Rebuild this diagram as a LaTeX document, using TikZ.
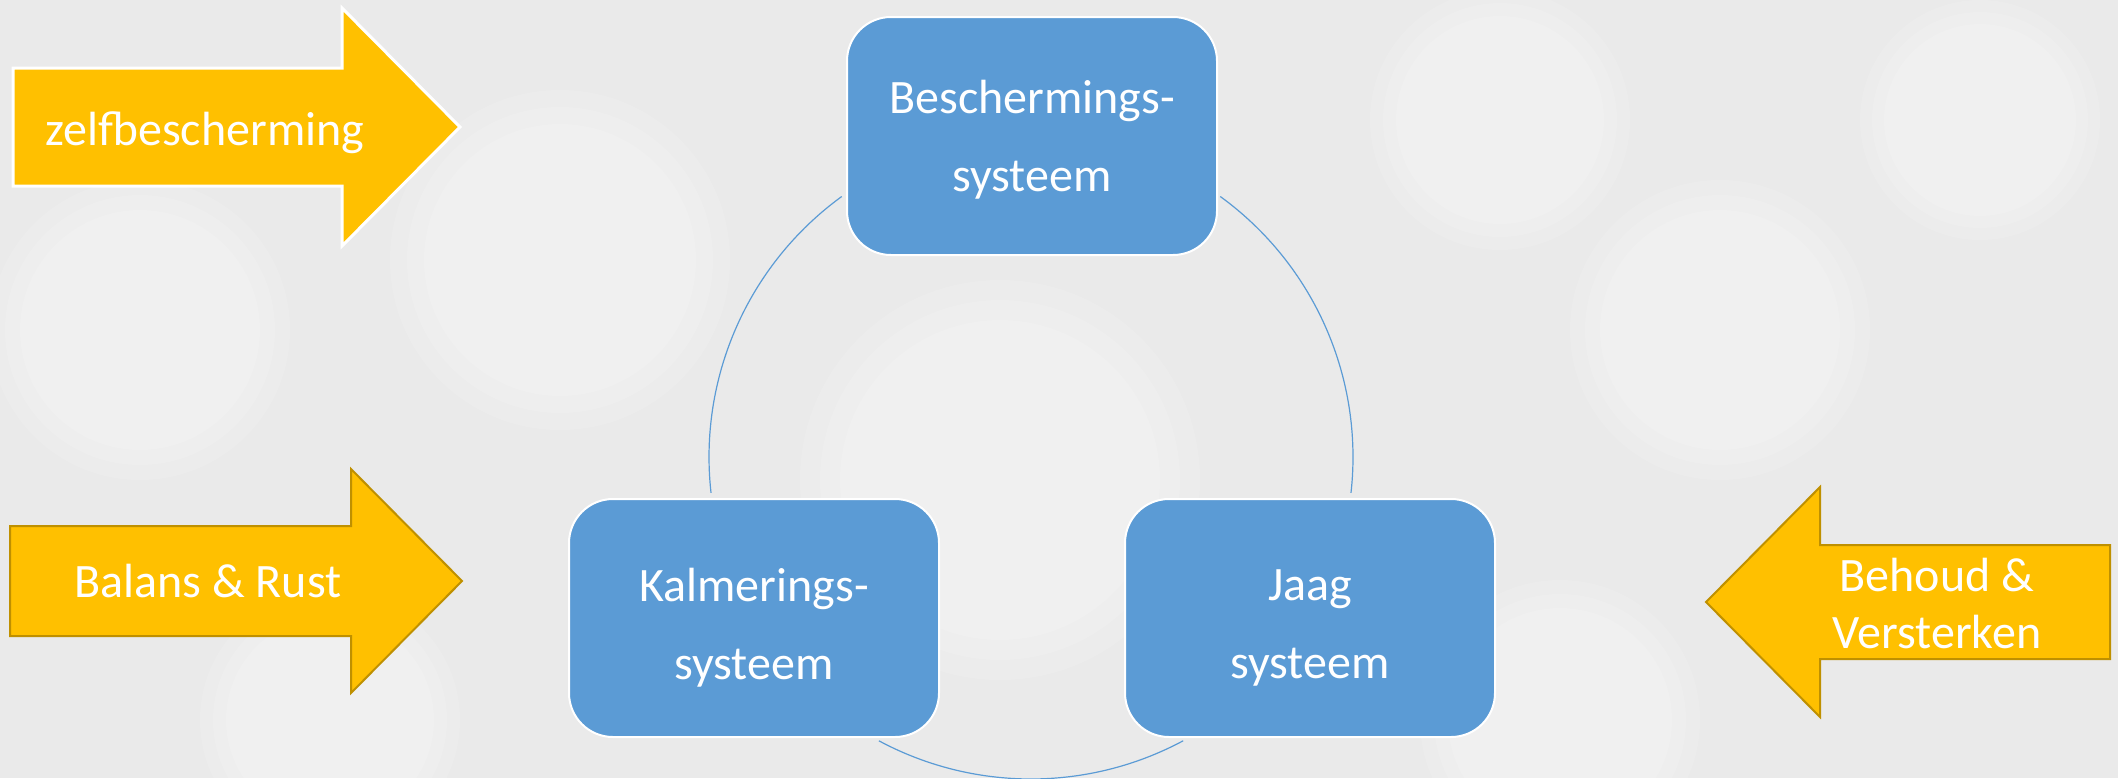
\documentclass[tikz,border=0pt]{standalone}
\usepackage{fontspec}
\setmainfont{Carlito}
\definecolor{boxblue}{HTML}{5B9BD5}
\definecolor{arrowgold}{HTML}{FFC000}
\definecolor{goldline}{HTML}{BF9000}
\definecolor{bgcol}{HTML}{EAEAEA}
\newcommand{\padtext}[2]{\parbox{180pt}{\centering\vspace*{#1}#2}}
\begin{document}
\begin{tikzpicture}[x=0.5pt,y=0.5pt,
  sysbox/.style={draw=white,line width=1pt,fill=boxblue,rounded corners=22pt,
    minimum width=185pt,minimum height=119pt,text=white,align=center,
    font=\fontsize{24}{39}\selectfont,inner sep=0pt},
  arrowlabel/.style={text=white,align=center,font=\fontsize{24}{28.5}\selectfont,inner sep=0pt},
  link/.style={draw=boxblue,line width=0.6pt},
  goldarrow/.style={fill=arrowgold,draw=goldline,line width=1pt,line join=miter},
  bokeh/.style={fill=white,opacity=0.12}]
\fill[bgcol] (0,0) rectangle (2118,-778);
\useasboundingbox (0,0) rectangle (2118,-778);
% soft background spots
\foreach \r in {1,0.9,0.8}{
  \fill[bokeh] (140,-330) circle[radius=150*\r];
  \fill[bokeh] (560,-260) circle[radius=170*\r];
  \fill[bokeh] (1000,-480) circle[radius=200*\r];
  \fill[bokeh] (1720,-330) circle[radius=150*\r];
  \fill[bokeh] (1500,-120) circle[radius=130*\r];
  \fill[bokeh] (1980,-120) circle[radius=120*\r];
  \fill[bokeh] (330,-720) circle[radius=130*\r];
  \fill[bokeh] (1560,-720) circle[radius=140*\r];
}
% connectors (circle)
\coordinate (ctr) at (1031,-457);
\draw[link] (ctr) ++(126:322) arc[start angle=126,end angle=186.4,radius=322];
\draw[link] (ctr) ++(241.8:322) arc[start angle=241.8,end angle=298.2,radius=322];
\draw[link] (ctr) ++(-6.4:322) arc[start angle=-6.4,end angle=54,radius=322];
% boxes
\node[sysbox] (top) at (1032,-136) {\padtext{4pt}{Beschermings-\\systeem}};
\node[sysbox] (left) at (754,-618) {\padtext{10pt}{Kalmerings-\\systeem}};
\node[sysbox] (right) at (1310,-618) {\padtext{10pt}{Jaag\\systeem}};
% arrows
\draw[goldarrow,draw=white,line width=1.5pt] (13,-68) -- (342,-68) -- (342,-8) -- (460,-127) -- (342,-246) -- (342,-186) -- (13,-186) -- cycle;
\node[arrowlabel] (a1) at (205,-133) {zelfbescherming};
\draw[goldarrow] (10,-526) -- (351,-526) -- (351,-469) -- (462,-581) -- (351,-693) -- (351,-636) -- (10,-636) -- cycle;
\node[arrowlabel] (a2) at (208,-581) {Balans \& Rust};
\draw[goldarrow] (2110,-545) -- (1820,-545) -- (1820,-487) -- (1706,-602) -- (1820,-717) -- (1820,-659) -- (2110,-659) -- cycle;
\node[arrowlabel] (a3) at (1937,-603) {Behoud \&\\Versterken};
\end{tikzpicture}
\end{document}
